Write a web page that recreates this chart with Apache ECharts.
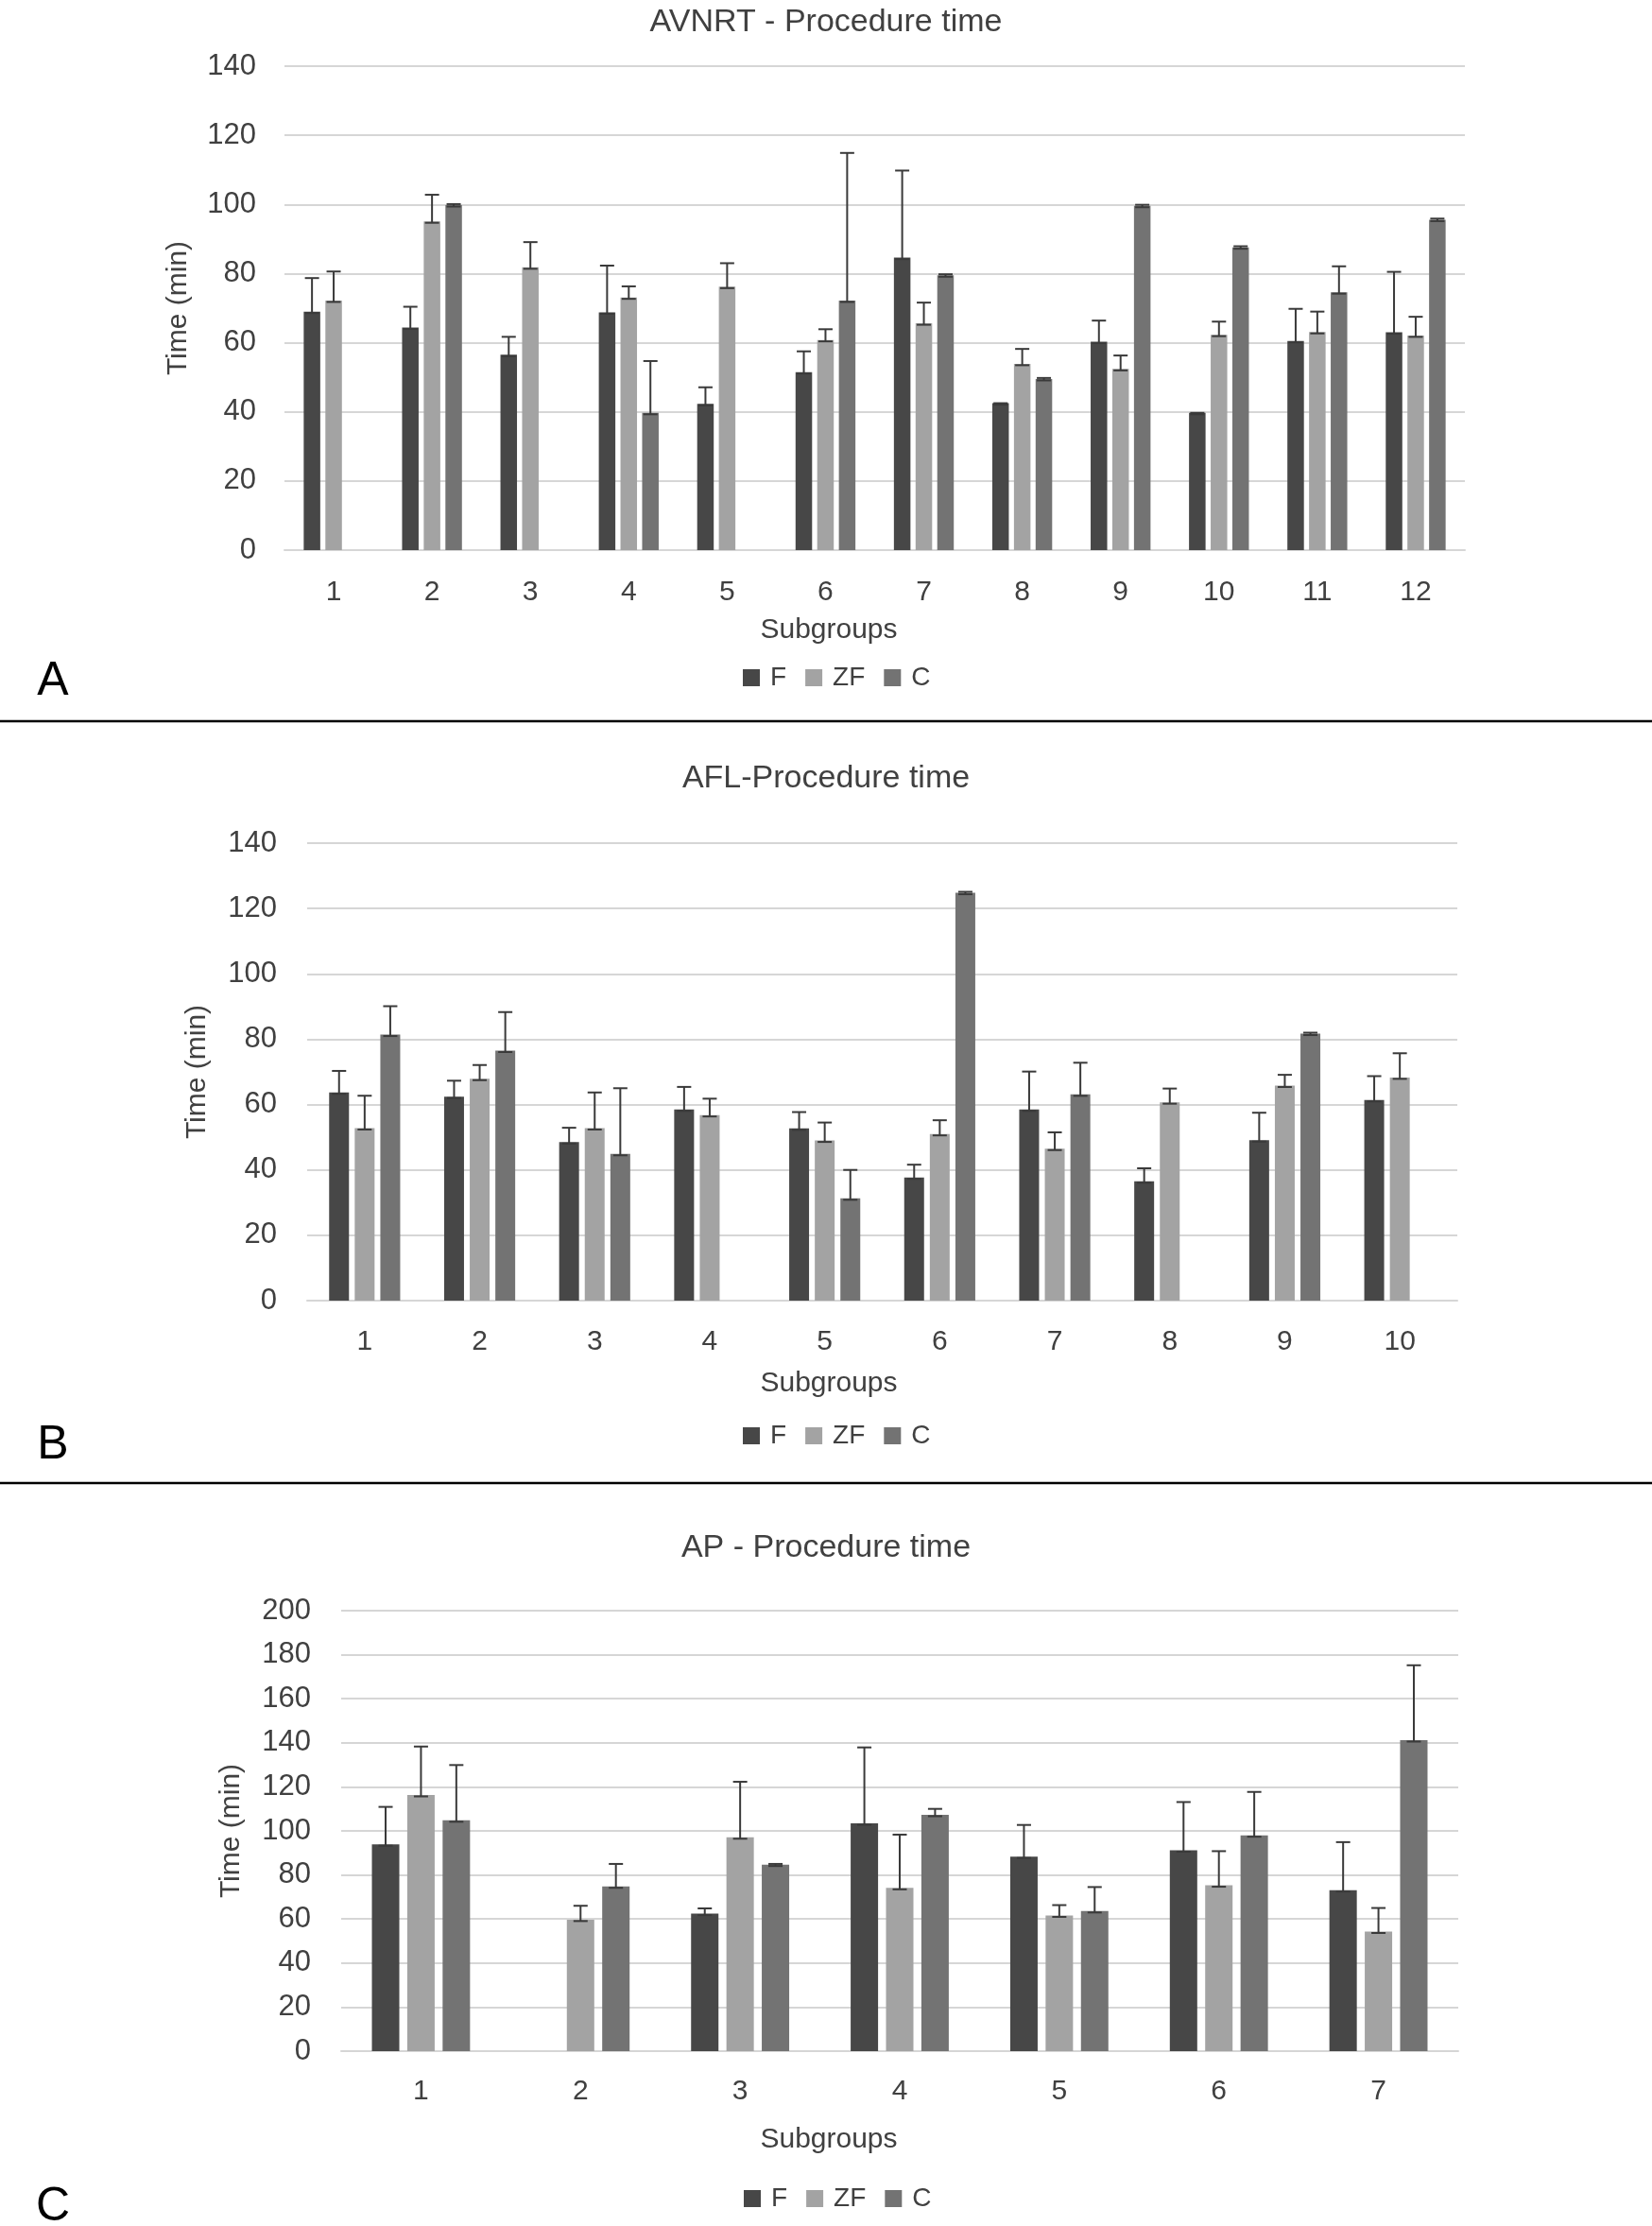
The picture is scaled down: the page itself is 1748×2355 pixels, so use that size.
<!DOCTYPE html>
<html>
<head>
<meta charset="utf-8">
<script src="https://cdn.jsdelivr.net/npm/echarts@6/dist/echarts.min.js"></script>
<style>
html,body{margin:0;padding:0;background:#fff;}
#chart{width:1748px;height:2355px;}
</style>
</head>
<body>
<div id="chart"></div>
<script>
// ---------- Data ----------
const seriesNames = ['F', 'ZF', 'C'];

// Panel A: AVNRT
const avnrtCategories = ['1','2','3','4','5','6','7','8','9','10','11','12'];
const avnrtF     = [69.0, 64.4, 56.5, 68.8, 42.3, 51.5, 84.6, 42.5, 60.3, 39.7, 60.5, 63.0];
const avnrtFErr  = [9.7, 6.0, 5.2, 13.5, 4.8, 6.0, 25.2, 0, 6.1, 0, 9.3, 17.5];
const avnrtZF    = [72.2, 95.1, 81.8, 73.1, 76.2, 60.8, 65.6, 53.9, 52.4, 62.3, 63.1, 62.1];
const avnrtZFErr = [8.4, 7.7, 7.3, 3.2, 6.8, 3.1, 6.0, 4.3, 3.9, 3.8, 5.9, 5.4];
const avnrtC     = [null, 99.8, null, 39.7, null, 72.2, 79.5, 49.5, 99.6, 87.6, 74.6, 95.6];
const avnrtCErr  = [null, 0.3, null, 15.0, null, 42.7, 0.3, 0.3, 0.3, 0.3, 7.5, 0.3];

// Panel B: AFL
const aflCategories = ['1','2','3','4','5','6','7','8','9','10'];
const aflF     = [63.7, 62.4, 48.5, 58.5, 52.7, 37.7, 58.5, 36.5, 49.1, 61.4];
const aflFErr  = [6.6, 4.9, 4.4, 6.9, 5.0, 3.9, 11.6, 4.0, 8.4, 7.3];
const aflZF    = [52.8, 67.9, 52.8, 56.8, 49.0, 51.0, 46.5, 60.7, 65.8, 68.3];
const aflZFErr = [9.9, 4.2, 10.9, 5.0, 5.5, 4.2, 5.0, 4.2, 3.3, 7.4];
const aflC     = [81.4, 76.5, 44.9, null, 31.3, 124.8, 63.1, null, 81.7, null];
const aflCErr  = [8.7, 11.8, 20.1, null, 8.7, 0.3, 9.7, null, 0.3, null];

// Panel C: AP
const apCategories = ['1','2','3','4','5','6','7'];
const apF     = [93.9, null, 62.4, 103.4, 88.3, 91.2, 73.1];
const apFErr  = [17.0, null, 2.4, 34.5, 14.4, 21.9, 21.8];
const apZF    = [116.3, 59.7, 97.1, 74.1, 61.6, 75.3, 54.3];
const apZFErr = [22.0, 6.3, 25.2, 24.2, 4.7, 15.5, 10.7];
const apC     = [104.8, 74.8, 84.7, 107.3, 63.6, 98.0, 141.2];
const apCErr  = [25.1, 10.2, 0.3, 2.7, 10.9, 19.7, 34.0];

// ---------- Styling ----------
const FONT = '"Liberation Sans", Arial, sans-serif';
const TXT = '#404040';
const GRIDC = '#d6d6d6';
const colors = ['#474747', '#a3a3a3', '#737373'];

const panels = [
  { title: 'AVNRT - Procedure time', cats: avnrtCategories,
    vals: [avnrtF, avnrtZF, avnrtC], errs: [avnrtFErr, avnrtZFErr, avnrtCErr],
    grid: {left: 301, top: 70, width: 1249, height: 512}, max: 140,
    barW: 17.5, gapR: 0.31, labelMargin: 30, nameGap: 97, yLabelMargin: 30,
    titleY: 24, subY: 667, legendTop: 703, legendLeft: 786, letter: 'A', letterY: 721 },
  { title: 'AFL-Procedure time', cats: aflCategories,
    vals: [aflF, aflZF, aflC], errs: [aflFErr, aflZFErr, aflCErr],
    grid: {left: 325, top: 892, width: 1217, height: 484}, max: 140,
    barW: 21, gapR: 0.29, labelMargin: 29, nameGap: 101, yLabelMargin: 32,
    titleY: 824, subY: 1464, legendTop: 1505, legendLeft: 786, letter: 'B', letterY: 1529 },
  { title: 'AP - Procedure time', cats: apCategories,
    vals: [apF, apZF, apC], errs: [apFErr, apZFErr, apCErr],
    grid: {left: 361, top: 1704, width: 1182, height: 466}, max: 200,
    barW: 29, gapR: 0.29, labelMargin: 28, nameGap: 101, yLabelMargin: 32,
    titleY: 1638, subY: 2264, legendTop: 2312, legendLeft: 787, letter: 'C', letterY: 2335 }
];

const grids = [], xAxes = [], yAxes = [], series = [], legends = [], graphics = [];

panels.forEach((p, pi) => {
  grids.push(Object.assign({containLabel: false}, p.grid));
  xAxes.push({
    type: 'category', gridIndex: pi, data: p.cats,
    axisLine: {show: true, lineStyle: {color: GRIDC, width: 2}},
    axisTick: {show: false},
    axisLabel: {color: TXT, fontSize: 30, fontFamily: FONT, margin: p.labelMargin}
  });
  yAxes.push({
    type: 'value', gridIndex: pi, min: 0, max: p.max, interval: 20,
    name: 'Time (min)', nameLocation: 'middle', nameRotate: 90, nameGap: p.nameGap,
    nameTextStyle: {color: TXT, fontSize: 30, fontFamily: FONT},
    axisLine: {show: false}, axisTick: {show: false},
    axisLabel: {color: TXT, fontSize: 31, fontFamily: FONT, margin: p.yLabelMargin},
    splitLine: {show: true, lineStyle: {color: GRIDC, width: 2}}
  });
  const gapPx = p.barW * p.gapR;
  seriesNames.forEach((nm, si) => {
    series.push({
      type: 'bar', name: nm, xAxisIndex: pi, yAxisIndex: pi,
      data: p.vals[si], barWidth: p.barW, barGap: Math.round(p.gapR * 100) + '%',
      itemStyle: {color: colors[si]}, emphasis: {disabled: true}
    });
  });
  seriesNames.forEach((nm, si) => {
    const d = [];
    p.vals[si].forEach((v, i) => { if (v != null) d.push([i, v, p.errs[si][i] || 0]); });
    const off = (si - 1) * (p.barW + gapPx);
    series.push({
      type: 'custom', name: nm, xAxisIndex: pi, yAxisIndex: pi, z: 5,
      itemStyle: {color: colors[si]},
      encode: {x: 0, y: 1},
      data: d,
      renderItem: function (params, api) {
        const i = api.value(0), v = api.value(1), e = api.value(2);
        const base = api.coord([i, v]);
        const top = api.coord([i, v + e]);
        const x = base[0] + off;
        const st = {stroke: '#3a3a3a', lineWidth: 2};
        return {type: 'group', children: [
          {type: 'line', shape: {x1: x, y1: base[1] + 1.5, x2: x, y2: top[1]}, style: st},
          {type: 'line', shape: {x1: x - 7.5, y1: top[1], x2: x + 7.5, y2: top[1]}, style: st},
          {type: 'line', shape: {x1: x - 7.5, y1: base[1] + 1.5, x2: x + 7.5, y2: base[1] + 1.5}, style: st}
        ]};
      }
    });
  });
  legends.push({
    data: seriesNames, left: p.legendLeft, top: p.legendTop, padding: 0,
    icon: 'rect', itemWidth: 18, itemHeight: 18, itemGap: 20,
    textStyle: {color: TXT, fontSize: 28, fontFamily: FONT, padding: [0, 0, 0, 6]}
  });
  graphics.push({type: 'text', x: 874, y: p.titleY,
    style: {text: p.title, fill: TXT, font: '34px ' + FONT, textAlign: 'center', textVerticalAlign: 'middle'}});
  graphics.push({type: 'text', x: 877, y: p.subY,
    style: {text: 'Subgroups', fill: TXT, font: '30px ' + FONT, textAlign: 'center', textVerticalAlign: 'middle'}});
  graphics.push({type: 'text', x: 56, y: p.letterY,
    style: {text: p.letter, fill: '#000', font: '50px ' + FONT, textAlign: 'center', textVerticalAlign: 'middle'}});
});

graphics.push({type: 'line', shape: {x1: 0, y1: 763, x2: 1748, y2: 763}, style: {stroke: '#000', lineWidth: 2.5}});
graphics.push({type: 'line', shape: {x1: 0, y1: 1569, x2: 1748, y2: 1569}, style: {stroke: '#000', lineWidth: 2.5}});

const chart = echarts.init(document.getElementById('chart'), null, {renderer: 'canvas'});
chart.setOption({
  animation: false,
  backgroundColor: '#fff',
  grid: grids, xAxis: xAxes, yAxis: yAxes, series: series, legend: legends,
  graphic: graphics
});
</script>
</body>
</html>
